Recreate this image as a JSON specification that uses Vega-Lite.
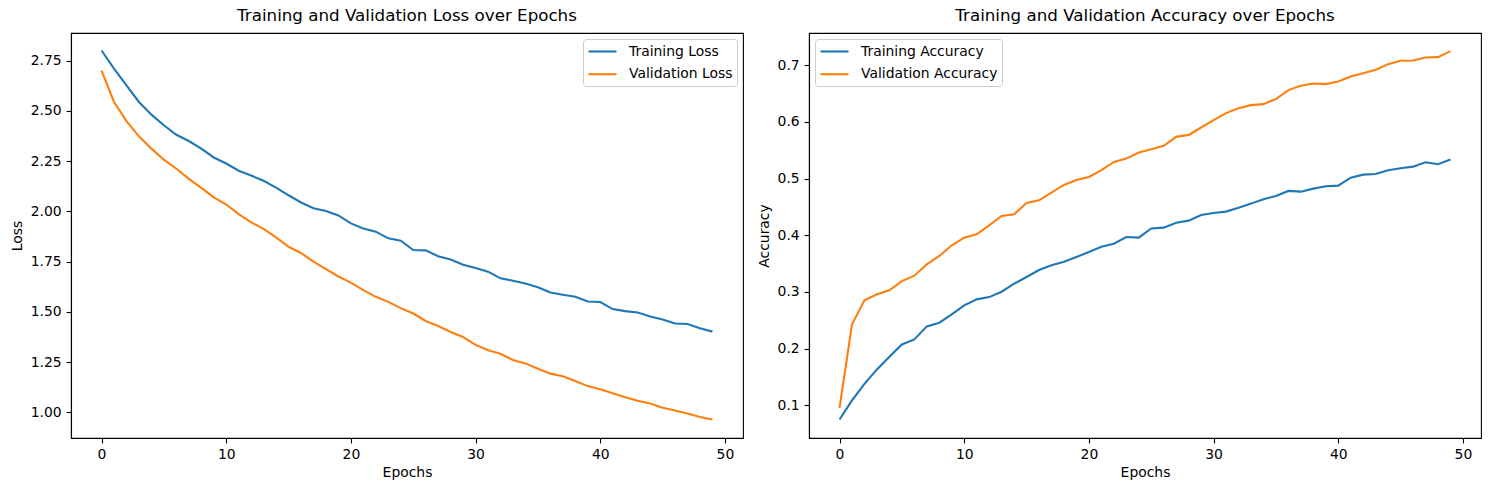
{
  "$schema": "https://vega.github.io/schema/vega-lite/v6.json",
  "padding": {"left": 10, "top": 7, "right": 8, "bottom": 8},
  "bounds": "flush",
  "spacing": 66,
  "datasets": {
    "loss": [
      {"epoch":0,"series":"Training Loss","value":2.80},{"epoch":1,"series":"Training Loss","value":2.71},{"epoch":2,"series":"Training Loss","value":2.627},{"epoch":3,"series":"Training Loss","value":2.544},{"epoch":4,"series":"Training Loss","value":2.481},{"epoch":5,"series":"Training Loss","value":2.428},{"epoch":6,"series":"Training Loss","value":2.381},{"epoch":7,"series":"Training Loss","value":2.35},{"epoch":8,"series":"Training Loss","value":2.312},{"epoch":9,"series":"Training Loss","value":2.268},
      {"epoch":10,"series":"Training Loss","value":2.238},{"epoch":11,"series":"Training Loss","value":2.202},{"epoch":12,"series":"Training Loss","value":2.178},{"epoch":13,"series":"Training Loss","value":2.152},{"epoch":14,"series":"Training Loss","value":2.118},{"epoch":15,"series":"Training Loss","value":2.08},{"epoch":16,"series":"Training Loss","value":2.044},{"epoch":17,"series":"Training Loss","value":2.016},{"epoch":18,"series":"Training Loss","value":2.002},{"epoch":19,"series":"Training Loss","value":1.98},
      {"epoch":20,"series":"Training Loss","value":1.94},{"epoch":21,"series":"Training Loss","value":1.915},{"epoch":22,"series":"Training Loss","value":1.899},{"epoch":23,"series":"Training Loss","value":1.866},{"epoch":24,"series":"Training Loss","value":1.854},{"epoch":25,"series":"Training Loss","value":1.808},{"epoch":26,"series":"Training Loss","value":1.806},{"epoch":27,"series":"Training Loss","value":1.777},{"epoch":28,"series":"Training Loss","value":1.761},{"epoch":29,"series":"Training Loss","value":1.735},
      {"epoch":30,"series":"Training Loss","value":1.718},{"epoch":31,"series":"Training Loss","value":1.70},{"epoch":32,"series":"Training Loss","value":1.667},{"epoch":33,"series":"Training Loss","value":1.655},{"epoch":34,"series":"Training Loss","value":1.641},{"epoch":35,"series":"Training Loss","value":1.623},{"epoch":36,"series":"Training Loss","value":1.597},{"epoch":37,"series":"Training Loss","value":1.585},{"epoch":38,"series":"Training Loss","value":1.575},{"epoch":39,"series":"Training Loss","value":1.552},
      {"epoch":40,"series":"Training Loss","value":1.549},{"epoch":41,"series":"Training Loss","value":1.514},{"epoch":42,"series":"Training Loss","value":1.504},{"epoch":43,"series":"Training Loss","value":1.497},{"epoch":44,"series":"Training Loss","value":1.477},{"epoch":45,"series":"Training Loss","value":1.462},{"epoch":46,"series":"Training Loss","value":1.442},{"epoch":47,"series":"Training Loss","value":1.44},{"epoch":48,"series":"Training Loss","value":1.419},{"epoch":49,"series":"Training Loss","value":1.402},
      {"epoch":0,"series":"Validation Loss","value":2.70},{"epoch":1,"series":"Validation Loss","value":2.544},{"epoch":2,"series":"Validation Loss","value":2.449},{"epoch":3,"series":"Validation Loss","value":2.373},{"epoch":4,"series":"Validation Loss","value":2.312},{"epoch":5,"series":"Validation Loss","value":2.257},{"epoch":6,"series":"Validation Loss","value":2.212},{"epoch":7,"series":"Validation Loss","value":2.162},{"epoch":8,"series":"Validation Loss","value":2.117},{"epoch":9,"series":"Validation Loss","value":2.07},
      {"epoch":10,"series":"Validation Loss","value":2.034},{"epoch":11,"series":"Validation Loss","value":1.986},{"epoch":12,"series":"Validation Loss","value":1.945},{"epoch":13,"series":"Validation Loss","value":1.913},{"epoch":14,"series":"Validation Loss","value":1.871},{"epoch":15,"series":"Validation Loss","value":1.824},{"epoch":16,"series":"Validation Loss","value":1.793},{"epoch":17,"series":"Validation Loss","value":1.75},{"epoch":18,"series":"Validation Loss","value":1.713},{"epoch":19,"series":"Validation Loss","value":1.676},
      {"epoch":20,"series":"Validation Loss","value":1.646},{"epoch":21,"series":"Validation Loss","value":1.608},{"epoch":22,"series":"Validation Loss","value":1.575},{"epoch":23,"series":"Validation Loss","value":1.55},{"epoch":24,"series":"Validation Loss","value":1.519},{"epoch":25,"series":"Validation Loss","value":1.492},{"epoch":26,"series":"Validation Loss","value":1.455},{"epoch":27,"series":"Validation Loss","value":1.43},{"epoch":28,"series":"Validation Loss","value":1.40},{"epoch":29,"series":"Validation Loss","value":1.375},
      {"epoch":30,"series":"Validation Loss","value":1.336},{"epoch":31,"series":"Validation Loss","value":1.309},{"epoch":32,"series":"Validation Loss","value":1.292},{"epoch":33,"series":"Validation Loss","value":1.261},{"epoch":34,"series":"Validation Loss","value":1.244},{"epoch":35,"series":"Validation Loss","value":1.217},{"epoch":36,"series":"Validation Loss","value":1.193},{"epoch":37,"series":"Validation Loss","value":1.18},{"epoch":38,"series":"Validation Loss","value":1.156},{"epoch":39,"series":"Validation Loss","value":1.131},
      {"epoch":40,"series":"Validation Loss","value":1.115},{"epoch":41,"series":"Validation Loss","value":1.096},{"epoch":42,"series":"Validation Loss","value":1.076},{"epoch":43,"series":"Validation Loss","value":1.058},{"epoch":44,"series":"Validation Loss","value":1.045},{"epoch":45,"series":"Validation Loss","value":1.023},{"epoch":46,"series":"Validation Loss","value":1.01},{"epoch":47,"series":"Validation Loss","value":0.995},{"epoch":48,"series":"Validation Loss","value":0.977},{"epoch":49,"series":"Validation Loss","value":0.965}
    ],
    "acc": [
      {"epoch":0,"series":"Training Accuracy","value":0.0753},{"epoch":1,"series":"Training Accuracy","value":0.1088},{"epoch":2,"series":"Training Accuracy","value":0.138},{"epoch":3,"series":"Training Accuracy","value":0.1635},{"epoch":4,"series":"Training Accuracy","value":0.1858},{"epoch":5,"series":"Training Accuracy","value":0.2076},{"epoch":6,"series":"Training Accuracy","value":0.2165},{"epoch":7,"series":"Training Accuracy","value":0.2394},{"epoch":8,"series":"Training Accuracy","value":0.2458},{"epoch":9,"series":"Training Accuracy","value":0.2606},
      {"epoch":10,"series":"Training Accuracy","value":0.2765},{"epoch":11,"series":"Training Accuracy","value":0.287},{"epoch":12,"series":"Training Accuracy","value":0.291},{"epoch":13,"series":"Training Accuracy","value":0.3005},{"epoch":14,"series":"Training Accuracy","value":0.3146},{"epoch":15,"series":"Training Accuracy","value":0.3264},{"epoch":16,"series":"Training Accuracy","value":0.3388},{"epoch":17,"series":"Training Accuracy","value":0.347},{"epoch":18,"series":"Training Accuracy","value":0.3534},{"epoch":19,"series":"Training Accuracy","value":0.3617},
      {"epoch":20,"series":"Training Accuracy","value":0.3705},{"epoch":21,"series":"Training Accuracy","value":0.3799},{"epoch":22,"series":"Training Accuracy","value":0.3852},{"epoch":23,"series":"Training Accuracy","value":0.397},{"epoch":24,"series":"Training Accuracy","value":0.3958},{"epoch":25,"series":"Training Accuracy","value":0.412},{"epoch":26,"series":"Training Accuracy","value":0.4134},{"epoch":27,"series":"Training Accuracy","value":0.4222},{"epoch":28,"series":"Training Accuracy","value":0.4258},{"epoch":29,"series":"Training Accuracy","value":0.4358},
      {"epoch":30,"series":"Training Accuracy","value":0.4393},{"epoch":31,"series":"Training Accuracy","value":0.4417},{"epoch":32,"series":"Training Accuracy","value":0.4487},{"epoch":33,"series":"Training Accuracy","value":0.4558},{"epoch":34,"series":"Training Accuracy","value":0.4635},{"epoch":35,"series":"Training Accuracy","value":0.4693},{"epoch":36,"series":"Training Accuracy","value":0.4782},{"epoch":37,"series":"Training Accuracy","value":0.4769},{"epoch":38,"series":"Training Accuracy","value":0.4822},{"epoch":39,"series":"Training Accuracy","value":0.4864},
      {"epoch":40,"series":"Training Accuracy","value":0.4875},{"epoch":41,"series":"Training Accuracy","value":0.5016},{"epoch":42,"series":"Training Accuracy","value":0.5069},{"epoch":43,"series":"Training Accuracy","value":0.5081},{"epoch":44,"series":"Training Accuracy","value":0.5147},{"epoch":45,"series":"Training Accuracy","value":0.5182},{"epoch":46,"series":"Training Accuracy","value":0.521},{"epoch":47,"series":"Training Accuracy","value":0.5288},{"epoch":48,"series":"Training Accuracy","value":0.5253},{"epoch":49,"series":"Training Accuracy","value":0.5334},
      {"epoch":0,"series":"Validation Accuracy","value":0.0958},{"epoch":1,"series":"Validation Accuracy","value":0.243},{"epoch":2,"series":"Validation Accuracy","value":0.2853},{"epoch":3,"series":"Validation Accuracy","value":0.2959},{"epoch":4,"series":"Validation Accuracy","value":0.303},{"epoch":5,"series":"Validation Accuracy","value":0.3193},{"epoch":6,"series":"Validation Accuracy","value":0.3287},{"epoch":7,"series":"Validation Accuracy","value":0.3488},{"epoch":8,"series":"Validation Accuracy","value":0.3635},{"epoch":9,"series":"Validation Accuracy","value":0.3824},
      {"epoch":10,"series":"Validation Accuracy","value":0.3958},{"epoch":11,"series":"Validation Accuracy","value":0.4017},{"epoch":12,"series":"Validation Accuracy","value":0.4176},{"epoch":13,"series":"Validation Accuracy","value":0.434},{"epoch":14,"series":"Validation Accuracy","value":0.437},{"epoch":15,"series":"Validation Accuracy","value":0.457},{"epoch":16,"series":"Validation Accuracy","value":0.4617},{"epoch":17,"series":"Validation Accuracy","value":0.4752},{"epoch":18,"series":"Validation Accuracy","value":0.4887},{"epoch":19,"series":"Validation Accuracy","value":0.4976},
      {"epoch":20,"series":"Validation Accuracy","value":0.5029},{"epoch":21,"series":"Validation Accuracy","value":0.5147},{"epoch":22,"series":"Validation Accuracy","value":0.5293},{"epoch":23,"series":"Validation Accuracy","value":0.5352},{"epoch":24,"series":"Validation Accuracy","value":0.5458},{"epoch":25,"series":"Validation Accuracy","value":0.5517},{"epoch":26,"series":"Validation Accuracy","value":0.5576},{"epoch":27,"series":"Validation Accuracy","value":0.5735},{"epoch":28,"series":"Validation Accuracy","value":0.577},{"epoch":29,"series":"Validation Accuracy","value":0.59},
      {"epoch":30,"series":"Validation Accuracy","value":0.603},{"epoch":31,"series":"Validation Accuracy","value":0.6153},{"epoch":32,"series":"Validation Accuracy","value":0.6241},{"epoch":33,"series":"Validation Accuracy","value":0.6294},{"epoch":34,"series":"Validation Accuracy","value":0.6312},{"epoch":35,"series":"Validation Accuracy","value":0.64},{"epoch":36,"series":"Validation Accuracy","value":0.6559},{"epoch":37,"series":"Validation Accuracy","value":0.6635},{"epoch":38,"series":"Validation Accuracy","value":0.6676},{"epoch":39,"series":"Validation Accuracy","value":0.6665},
      {"epoch":40,"series":"Validation Accuracy","value":0.6711},{"epoch":41,"series":"Validation Accuracy","value":0.6799},{"epoch":42,"series":"Validation Accuracy","value":0.6858},{"epoch":43,"series":"Validation Accuracy","value":0.6917},{"epoch":44,"series":"Validation Accuracy","value":0.7017},{"epoch":45,"series":"Validation Accuracy","value":0.7076},{"epoch":46,"series":"Validation Accuracy","value":0.7082},{"epoch":47,"series":"Validation Accuracy","value":0.7135},{"epoch":48,"series":"Validation Accuracy","value":0.7141},{"epoch":49,"series":"Validation Accuracy","value":0.7247}
    ]
  },
  "hconcat": [
    {
      "width": 672,
      "height": 405,
      "title": "Training and Validation Loss over Epochs",
      "data": {"name": "loss"},
      "mark": {"type": "line", "strokeWidth": 2.1},
      "encoding": {
        "x": {"field": "epoch", "type": "quantitative", "title": "Epochs",
              "scale": {"domain": [-2.45, 51.45], "nice": false, "zero": false},
              "axis": {"values": [0, 10, 20, 30, 40, 50], "format": "d"}},
        "y": {"field": "value", "type": "quantitative", "title": "Loss",
              "scale": {"domain": [0.873, 2.887], "nice": false, "zero": false},
              "axis": {"values": [1.0, 1.25, 1.5, 1.75, 2.0, 2.25, 2.5, 2.75], "format": ".2f"}},
        "color": {"field": "series", "type": "nominal",
                  "scale": {"domain": ["Training Loss", "Validation Loss"], "range": ["#1f77b4", "#ff7f0e"]},
                  "legend": {"orient": "top-right"}}
      }
    },
    {
      "width": 672,
      "height": 405,
      "title": "Training and Validation Accuracy over Epochs",
      "data": {"name": "acc"},
      "mark": {"type": "line", "strokeWidth": 2.1},
      "encoding": {
        "x": {"field": "epoch", "type": "quantitative", "title": "Epochs",
              "scale": {"domain": [-2.45, 51.45], "nice": false, "zero": false},
              "axis": {"values": [0, 10, 20, 30, 40, 50], "format": "d"}},
        "y": {"field": "value", "type": "quantitative", "title": "Accuracy",
              "scale": {"domain": [0.0426, 0.7566], "nice": false, "zero": false},
              "axis": {"values": [0.1, 0.2, 0.3, 0.4, 0.5, 0.6, 0.7], "format": ".1f"}},
        "color": {"field": "series", "type": "nominal",
                  "scale": {"domain": ["Training Accuracy", "Validation Accuracy"], "range": ["#1f77b4", "#ff7f0e"]},
                  "legend": {"orient": "top-left"}}
      }
    }
  ],
  "resolve": {"scale": {"color": "independent"}, "legend": {"color": "independent"}},
  "config": {
    "font": "DejaVu Sans",
    "view": {"stroke": "black", "strokeWidth": 1.1},
    "axis": {
      "grid": false,
      "domainColor": "black",
      "domainWidth": 1.1,
      "tickColor": "black",
      "tickWidth": 1.1,
      "tickSize": 4.9,
      "labelFontSize": 13.9,
      "labelColor": "black",
      "labelPadding": 4.9,
      "titleFontSize": 13.9,
      "titleFontWeight": "normal",
      "titleColor": "black",
      "titlePadding": 5.6
    },
    "axisX": {"titlePadding": 3.6},
    "title": {"fontSize": 16.7, "fontWeight": "normal", "color": "black", "offset": 8},
    "legend": {
      "title": null,
      "offset": 6,
      "padding": 4,
      "strokeColor": "#cccccc",
      "fillColor": "rgba(255,255,255,0.8)",
      "cornerRadius": 3,
      "labelFontSize": 13.9,
      "labelColor": "black",
      "symbolType": "M-1,0H3",
      "symbolStrokeWidth": 2.1,
      "symbolFillColor": "transparent",
      "symbolSize": 196,
      "rowPadding": 6.7,
      "labelOffset": 25
    }
  }
}
